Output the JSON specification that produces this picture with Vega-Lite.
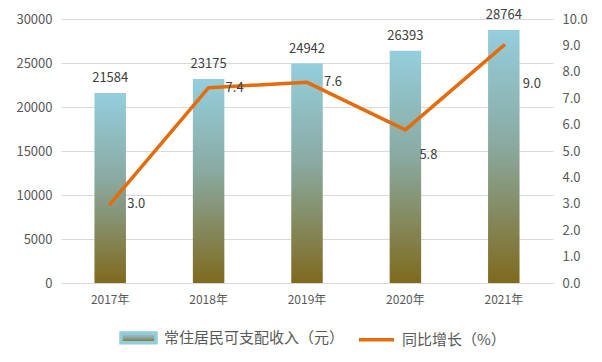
{
  "$schema": "https://vega.github.io/schema/vega-lite/v6.json",
  "width": 492,
  "height": 264,
  "autosize": "none",
  "padding": {"left": 61, "top": 19, "right": 49, "bottom": 79},
  "background": "#ffffff",
  "config": {
    "view": {"stroke": null},
    "font": "Noto Sans CJK SC",
    "text": {"font": "Noto Sans CJK SC", "fontSize": 13, "color": "#404040"}
  },
  "data": {
    "values": [
      {"year": "2017年", "income": 21584, "growth": 3.0},
      {"year": "2018年", "income": 23175, "growth": 7.4},
      {"year": "2019年", "income": 24942, "growth": 7.6},
      {"year": "2020年", "income": 26393, "growth": 5.8},
      {"year": "2021年", "income": 28764, "growth": 9.0}
    ]
  },
  "encoding": {
    "x": {
      "field": "year",
      "type": "nominal",
      "sort": null,
      "scale": {"paddingInner": 0, "paddingOuter": 0},
      "axis": {
        "title": null,
        "labelAngle": 0,
        "labelFontSize": 12,
        "labelColor": "#595959",
        "labelPadding": 11,
        "ticks": false,
        "domain": true,
        "domainColor": "#D9D9D9",
        "grid": false
      }
    }
  },
  "layer": [
    {
      "encoding": {
        "y": {
          "field": "income",
          "type": "quantitative",
          "scale": {"domain": [0, 30000], "nice": false},
          "axis": {
            "title": null,
            "values": [0, 5000, 10000, 15000, 20000, 25000, 30000],
            "format": "d",
            "grid": true,
            "gridColor": "#D9D9D9",
            "domain": false,
            "ticks": false,
            "labelPadding": 9,
            "labelFontSize": 13,
            "labelColor": "#595959"
          }
        }
      },
      "layer": [
        {
          "mark": {
            "type": "bar",
            "width": {"band": 0.32},
            "color": {
              "gradient": "linear",
              "x1": 0, "y1": 0, "x2": 0, "y2": 1,
              "stops": [
                {"offset": 0, "color": "#94CEDD"},
                {"offset": 0.45, "color": "#8AAAA2"},
                {"offset": 1, "color": "#7F6A1E"}
              ]
            }
          }
        },
        {
          "mark": {"type": "text", "baseline": "bottom", "dy": -8, "fontSize": 13},
          "encoding": {"text": {"field": "income", "type": "quantitative", "format": "d"}}
        }
      ]
    },
    {
      "encoding": {
        "y": {
          "field": "growth",
          "type": "quantitative",
          "scale": {"domain": [0, 10], "nice": false},
          "axis": {
            "orient": "right",
            "title": null,
            "values": [0, 1, 2, 3, 4, 5, 6, 7, 8, 9, 10],
            "format": ".1f",
            "grid": false,
            "domain": false,
            "ticks": false,
            "labelPadding": 9,
            "labelFontSize": 13,
            "labelColor": "#595959"
          }
        }
      },
      "layer": [
        {
          "mark": {"type": "line", "strokeWidth": 3.5, "strokeCap": "round", "strokeJoin": "round"},
          "encoding": {
            "color": {
              "datum": "同比增长（%）",
              "type": "nominal",
              "scale": {
                "domain": ["常住居民可支配收入（元）", "同比增长（%）"],
                "range": ["#93CDDD", "#E46C0A"]
              },
              "legend": {
                "title": null,
                "orient": "none",
                "legendX": 58,
                "legendY": 299,
                "direction": "horizontal",
                "labelFontSize": 15,
                "labelColor": "#595959",
                "labelLimit": 400,
                "labelOffset": 6,
                "columnPadding": 7,
                "symbolSize": 1225,
                "encode": {
                  "symbols": {
                    "update": {
                      "shape": [
                        {"test": "datum.value === '同比增长（%）'", "value": "stroke"},
                        {"value": "M-1,-0.28H1V0.28H-1Z"}
                      ],
                      "fill": [
                        {"test": "datum.value === '同比增长（%）'", "value": "transparent"},
                        {"value": {
                          "gradient": "linear",
                          "x1": 0, "y1": 0, "x2": 0, "y2": 1,
                          "stops": [
                            {"offset": 0, "color": "#94CEDD"},
                            {"offset": 0.45, "color": "#8AAAA2"},
                            {"offset": 1, "color": "#7F6A1E"}
                          ]
                        }}
                      ],
                      "stroke": [
                        {"test": "datum.value === '同比增长（%）'", "value": "#E46C0A"},
                        {"value": "transparent"}
                      ],
                      "strokeWidth": {"value": 3.5}
                    }
                  }
                }
              }
            }
          }
        },
        {
          "transform": [{"filter": "datum.growth > 6 || datum.growth < 4"}, {"filter": "datum.year !== '2021年'"}],
          "mark": {"type": "text", "align": "left", "baseline": "middle", "dx": 17, "fontSize": 13},
          "encoding": {"text": {"field": "growth", "type": "quantitative", "format": ".1f"}}
        },
        {
          "transform": [{"filter": "datum.year === '2020年'"}],
          "mark": {"type": "text", "align": "left", "baseline": "middle", "dx": 14, "dy": 25, "fontSize": 13},
          "encoding": {"text": {"field": "growth", "type": "quantitative", "format": ".1f"}}
        },
        {
          "transform": [{"filter": "datum.year === '2021年'"}],
          "mark": {"type": "text", "align": "left", "baseline": "middle", "dx": 19, "dy": 39, "fontSize": 13},
          "encoding": {"text": {"field": "growth", "type": "quantitative", "format": ".1f"}}
        }
      ]
    }
  ],
  "resolve": {"scale": {"y": "independent"}}
}
